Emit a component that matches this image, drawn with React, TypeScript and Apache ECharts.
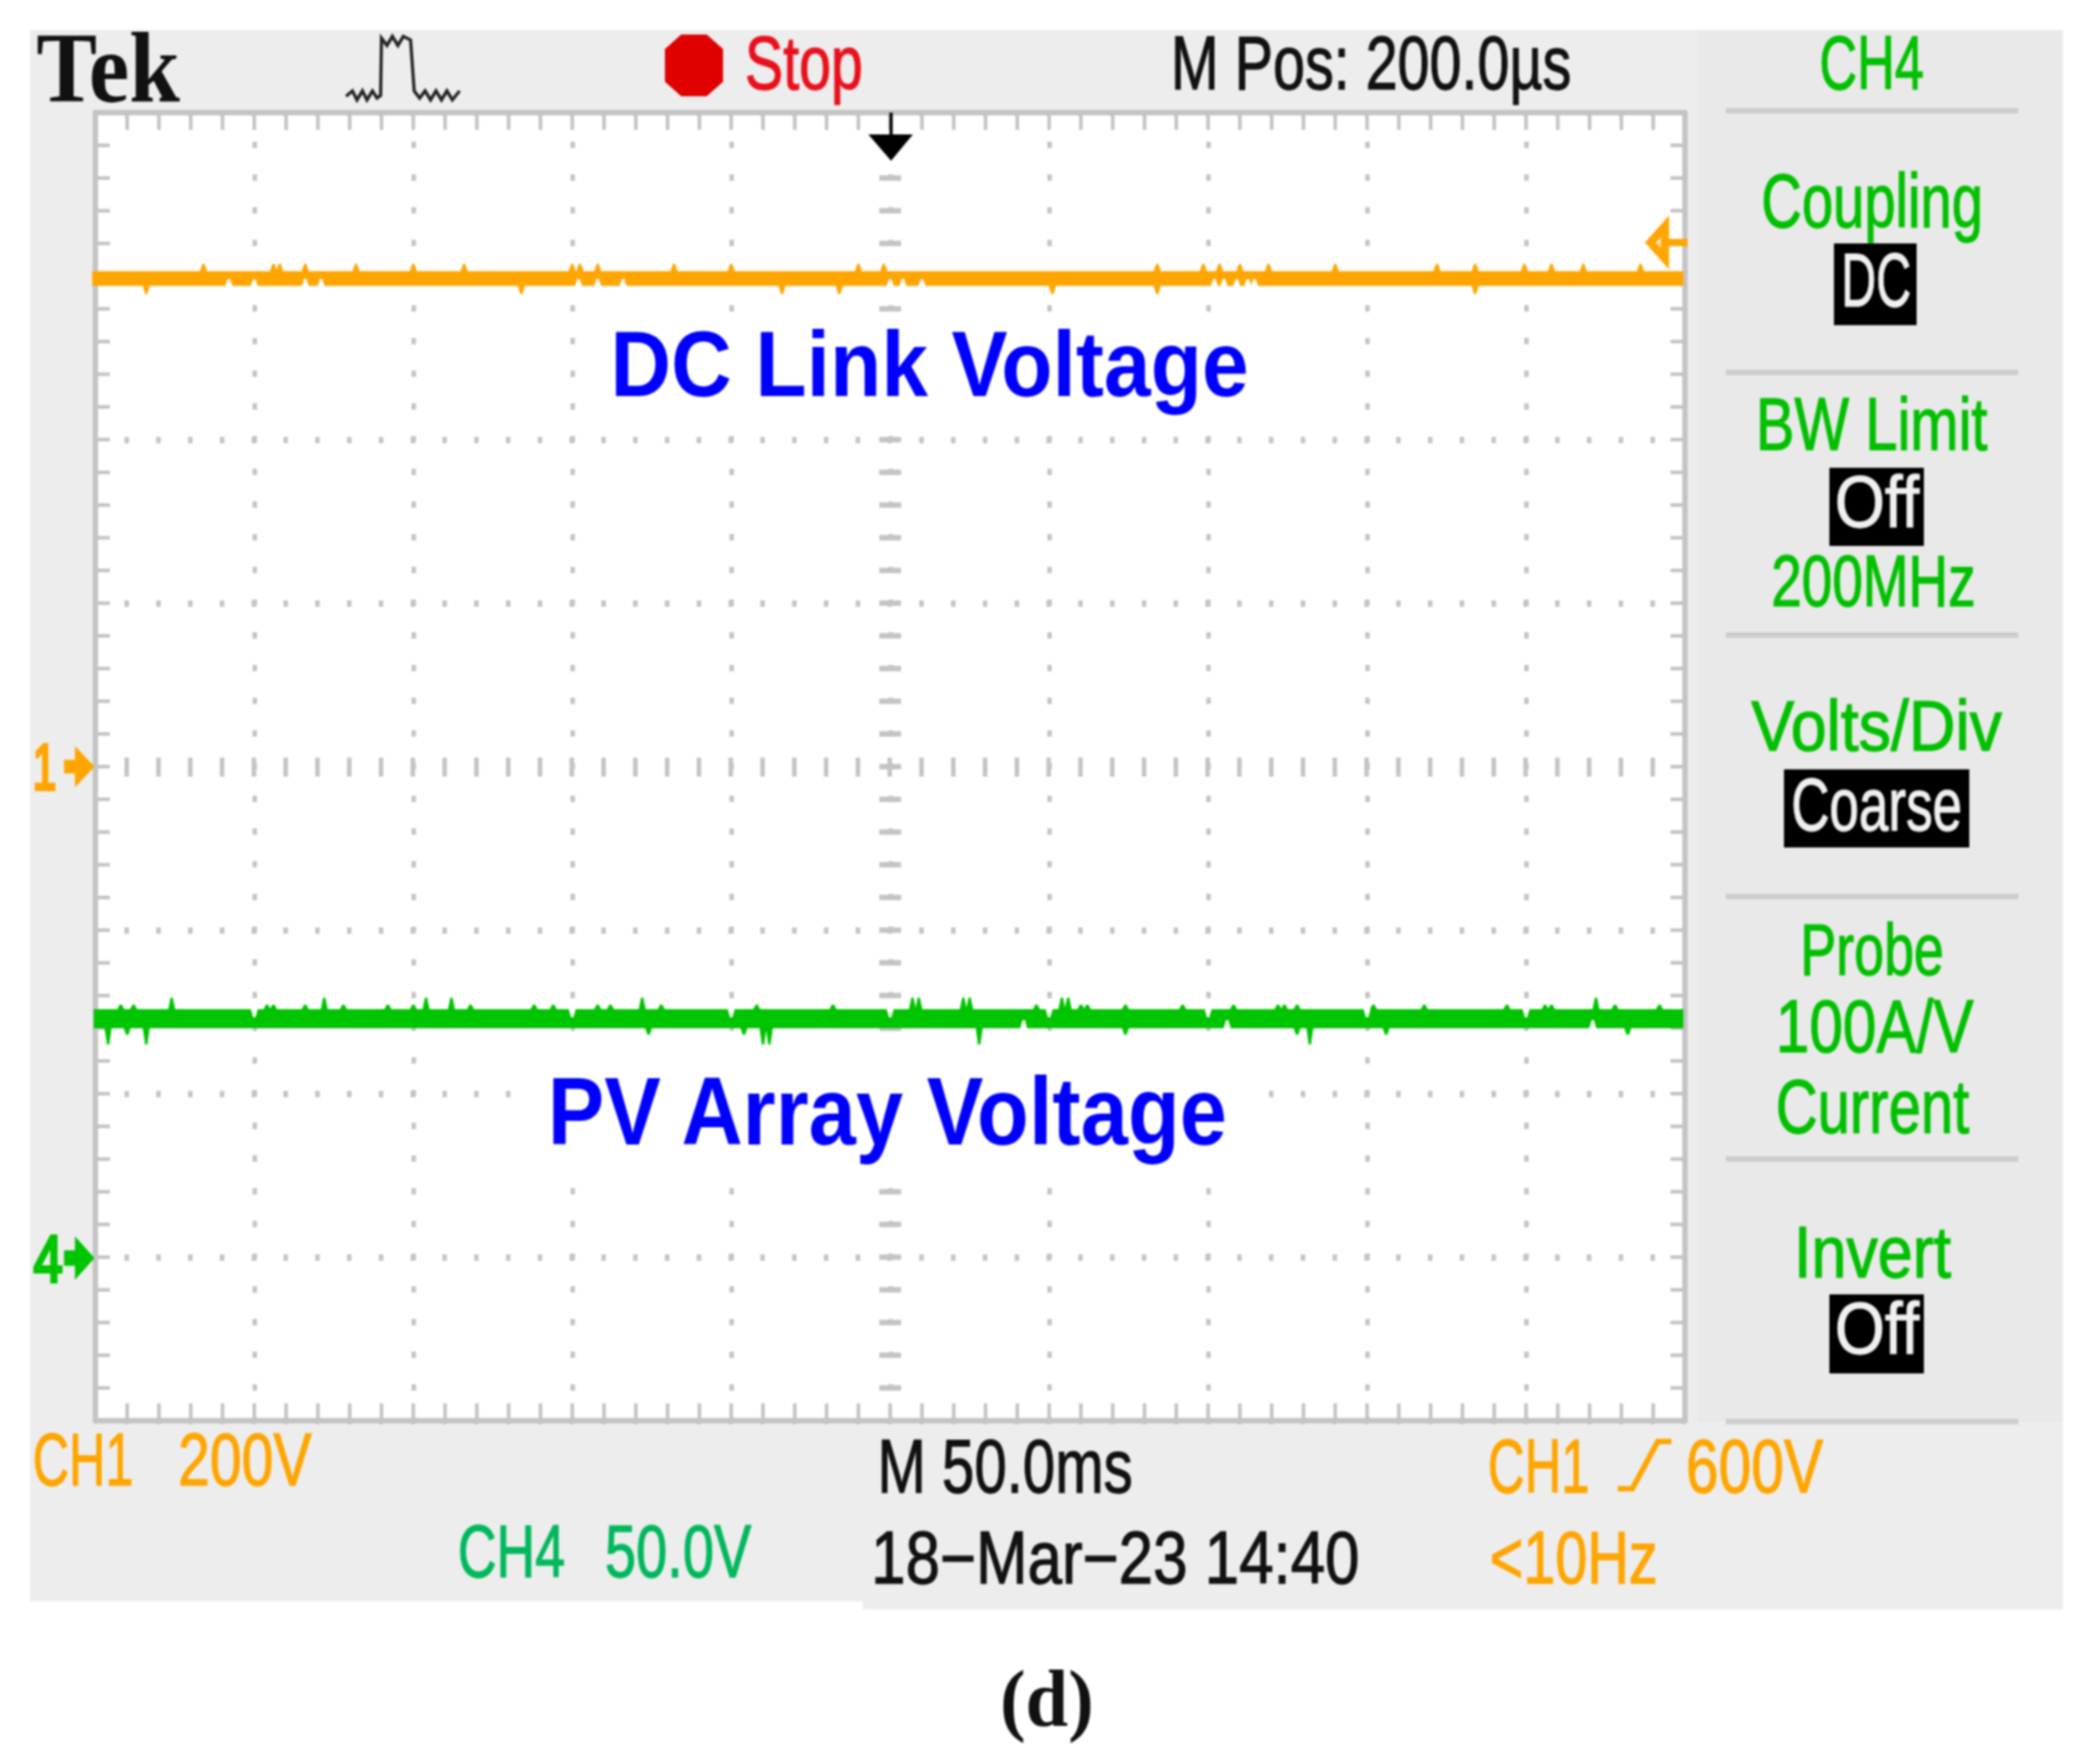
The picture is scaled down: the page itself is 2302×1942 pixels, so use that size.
import React, { useEffect, useRef } from "react";
import * as echarts from "echarts";

// CH1 (DC link voltage) in volts, time in ms from the screen centre
const dcHigh = 606;
const dcLow = 588;
const dcUpTimes = [-216, -194, -192, -184, -168, -150, -134, -100, -97.6, -92, -68, -50, -10, -2, 84, 98.5, 103.6, 110, 119, 140, 172, 184, 199.5, 208, 218, 236];
const dcUpPeak = 615;
const dcDownTimes = [-234, -116, -34, -16, 51, 84, 184];
const dcDownPeak = 578;
const dcNotchTimes = [-208, -200, -184, -179, -98, -92, -84, 0, 4, 10, 102, 105, 109, 112.5, 114.6];
const dcNotchLevel = 596.7;

// CH4 (PV array voltage) in volts
const pvHigh = 75.8;
const pvLow = 70;
const pvTallUp = [-226, -178, -146, -138, -78, 7, 9, 23, 25, 54, 56, 222];
const pvTallLevel = 79.4;
const pvSmallUp = [-242, -238, -196, -194, -184, -172, -158, -150, -132, -112, -106, -92, -88, -72, -42, -18, 46, 60, 62, 74, 92, 108, 122, 124, 128, 152, 168, 194, 206, 208, 228, 242];
const pvSmallLevel = 77.2;
const pvTallDown = [-246, -234, -40, -38, 28, 132];
const pvTallDownLevel = 65;
const pvSmallDown = [-240, -76, -46, 74, 128, 156, 232];
const pvSmallDownLevel = 68;
const pvTopNotches = [-200, -100, -50, 0, 50, 100, 150, 200];
const pvTopNotchLevel = 73.3;
const pvBottomNotches = [42, 106, 221];
const pvBottomNotchLevel = 72.5;

const sideMenu = ["CH4", "Coupling", "DC", "BW Limit", "Off", "200MHz", "Volts/Div", "Coarse", "Probe", "100A/V", "Current", "Invert", "Off"];

type Mark = [number, number];

function edge(base: number, marks: Mark[], t0: number, t1: number): number[][] {
  const sorted = [...marks].sort((a, b) => a[0] - b[0]);
  const out: number[][] = [[t0, base]];
  for (const [t, v] of sorted) {
    out.push([t - 1.1, base], [t - 0.35, v], [t + 0.35, v], [t + 1.1, base]);
  }
  out.push([t1, base]);
  return out;
}
const at = (ts: number[], v: number): Mark[] => ts.map((t) => [t, v]);

const dcOutline = [
  ...edge(dcHigh, at(dcUpTimes, dcUpPeak), -251, 249.5),
  ...edge(dcLow, [...at(dcDownTimes, dcDownPeak), ...at(dcNotchTimes, dcNotchLevel)], -251, 249.5).reverse(),
];
const pvOutline = [
  ...edge(pvHigh, [...at(pvTallUp, pvTallLevel), ...at(pvSmallUp, pvSmallLevel), ...at(pvTopNotches, pvTopNotchLevel)], -250.5, 249.5),
  ...edge(pvLow, [...at(pvTallDown, pvTallDownLevel), ...at(pvSmallDown, pvSmallDownLevel), ...at(pvBottomNotches, pvBottomNotchLevel)], -250.5, 249.5).reverse(),
];

const ORANGE = "#ffa500";
const GREEN = "#00c400";
const GRID = "#c4c4c4";

const ctx = document.createElement("canvas").getContext("2d")!;

function fit(
  text: string,
  x0: number,
  x1: number,
  top: number,
  base: number,
  fill: string,
  opt: { family?: string; weight?: string; ratio?: number; mid?: number; bold?: number } = {}
) {
  const family = opt.family ?? "'Liberation Sans'";
  const weight = opt.weight ?? "normal";
  const ratio = opt.ratio ?? 0.716;
  const mid = opt.mid ?? 0.3465;
  const size = (base - top) / ratio;
  const font = `${weight} ${size}px ${family}`;
  ctx.font = font;
  const m = ctx.measureText(text);
  const lineWidth = opt.bold ?? 1.3;
  return {
    type: "text",
    x: x0,
    y: base - mid * size,
    scaleX: (x1 - x0) / m.width,
    z: 20,
    silent: true,
    style: {
      text,
      font,
      fill,
      textAlign: "left",
      textVerticalAlign: "middle",
      ...(lineWidth > 0 ? { stroke: fill, lineWidth } : {}),
    },
  };
}
const rect = (x: number, y: number, w: number, h: number, fill: string, z: number) => ({
  type: "rect",
  z,
  silent: true,
  shape: { x, y, width: w, height: h },
  style: { fill },
});
const poly = (points: number[][], fill: string, z = 15, stroke?: string, lineWidth = 0) => ({
  type: "polygon",
  z,
  silent: true,
  shape: { points },
  style: { fill, stroke, lineWidth },
});
const pline = (points: number[][], stroke: string, lineWidth: number, z = 15) => ({
  type: "polyline",
  z,
  silent: true,
  shape: { points },
  style: { stroke, lineWidth, fill: "none" },
});

const TXT = "#111111";
const MENU = "#00c000";
const SERIF = { family: "'Liberation Serif'", weight: "bold", ratio: 0.66, mid: 0.3375, bold: 0 };

function graphics() {
  const separators = [122, 410, 699, 987, 1276, 1565].map((y) => rect(1900, y - 3, 322, 6, "#cdcdcd", 2));
  return [
    rect(33, 33, 2238, 1730, "#ededed", -3),
    rect(950, 1700, 1321, 72, "#ededed", -3),
    rect(1869, 33, 402, 1532, "#e9e9e9", -2),
    rect(105, 124, 1750, 1440, "#ffffff", -1),
    rect(650, 350, 750, 115, "#ffffff", 3),
    rect(570, 1150, 825, 145, "#ffffff", 3),
    ...separators,

    fit("Tek", 40, 198, 40, 112, "#111111", SERIF),
    pline([[381, 106], [388, 100], [393, 110], [399, 100], [404, 110], [410, 100], [415, 108], [419, 105], [420, 42], [426, 50], [432, 40], [438, 50], [444, 40], [452, 44], [456, 100], [462, 108], [468, 100], [474, 110], [480, 100], [486, 110], [492, 100], [498, 110], [506, 100]], "#222222", 3.5),
    poly([[750, 38], [778, 38], [796, 54], [796, 90], [778, 106], [750, 106], [732, 90], [732, 54]], "#e00000"),
    fit("Stop", 820, 950, 38, 98, "#e8101c"),
    fit("M Pos: 200.0µs", 1289, 1730, 38, 98, TXT),

    fit(sideMenu[0], 2003, 2118, 38, 98, MENU),
    fit(sideMenu[1], 1939, 2183, 190, 250, MENU),
    rect(2019, 268, 91, 90, "#000000", 10),
    fit(sideMenu[2], 2027, 2104, 277, 337, "#f0f0f0"),
    fit(sideMenu[3], 1933, 2188, 436, 495, MENU),
    rect(2014, 515, 104, 86, "#000000", 10),
    fit(sideMenu[4], 2020, 2113, 523, 580, "#f0f0f0"),
    fit(sideMenu[5], 1950, 2175, 610, 667, MENU),
    fit(sideMenu[6], 1928, 2204, 770, 826, MENU),
    rect(1964, 847, 204, 86, "#000000", 10),
    fit(sideMenu[7], 1972, 2160, 856, 914, "#f0f0f0"),
    fit(sideMenu[8], 1982, 2140, 1016, 1073, MENU),
    fit(sideMenu[9], 1955, 2173, 1100, 1158, MENU),
    fit(sideMenu[10], 1955, 2168, 1187, 1247, MENU),
    fit(sideMenu[11], 1975, 2148, 1349, 1406, MENU),
    rect(2014, 1425, 104, 87, "#000000", 10),
    fit(sideMenu[12], 2020, 2113, 1433, 1490, "#f0f0f0"),

    fit("DC Link Voltage", 672, 1375, 363, 436, "#0000ff", { weight: "bold", bold: 0 }),
    fit("PV Array Voltage", 603, 1354, 1185, 1260, "#0000ff", { weight: "bold", bold: 0 }),

    fit("CH1", 36, 147, 1577, 1635, ORANGE),
    fit("200V", 196, 343, 1577, 1635, ORANGE),
    fit("CH4", 504, 622, 1677, 1736, "#00b85c"),
    fit("50.0V", 666, 827, 1677, 1736, "#00b85c"),
    fit("M 50.0ms", 966, 1247, 1583, 1643, TXT),
    fit("18−Mar−23 14:40", 959, 1497, 1685, 1743, TXT),
    fit("CH1", 1638, 1750, 1583, 1643, ORANGE),
    pline([[1781, 1639], [1797, 1639], [1825, 1587], [1840, 1587]], ORANGE, 6),
    fit("600V", 1856, 2007, 1583, 1643, ORANGE),
    fit("<10Hz", 1640, 1825, 1685, 1743, ORANGE),
    fit("(d)", 1101, 1204, 1841, 1900, "#111111", SERIF),

    // channel and trigger markers
    fit("1", 36, 62, 818, 869, ORANGE, { bold: 4 }),
    poly([[72, 838], [84, 838], [84, 825], [102, 844], [84, 863], [84, 850], [72, 850]], ORANGE, 15, ORANGE, 3),
    fit("4", 37, 69, 1359, 1411, GREEN, { bold: 4 }),
    poly([[72, 1378], [84, 1378], [84, 1365], [102, 1385], [84, 1405], [84, 1392], [72, 1392]], GREEN, 15, GREEN, 3),
    poly([[1817, 267], [1833, 249], [1833, 285]], "#ffe9c0", 15, ORANGE, 9),
    pline([[1835, 267], [1858, 267]], ORANGE, 8),
    pline([[981, 124], [981, 152]], "#000000", 3.5),
    poly([[956, 148], [1005, 148], [981, 177]], "#000000"),
  ];
}

function outlineSeries(name: string, outline: number[][], yAxisIndex: number, color: string) {
  return {
    type: "custom",
    name,
    xAxisIndex: 0,
    yAxisIndex,
    z: 5,
    silent: true,
    data: outline,
    encode: { x: 0, y: 1 },
    renderItem: (params: any, api: any) => {
      if (params.dataIndex !== 0) return null;
      return {
        type: "polygon",
        shape: { points: outline.map((p) => api.coord(p)) },
        style: { fill: color },
      };
    },
  };
}

const App = () => {
  const ref = useRef<HTMLDivElement>(null);
  useEffect(() => {
    document.body.style.margin = "0";
    document.body.style.background = "#ffffff";
    const chart = echarts.init(ref.current!, undefined, { renderer: "svg" });
    const tickX = { show: true, inside: true, length: 19, lineStyle: { color: GRID, width: 4 } };
    const minorX = { show: true, splitNumber: 5, length: 19, lineStyle: { color: GRID, width: 4 } };
    const tickY = { show: true, inside: true, length: 16, lineStyle: { color: GRID, width: 4 } };
    const minorY = { show: true, splitNumber: 5, length: 16, lineStyle: { color: GRID, width: 4 } };
    const axisLine = { show: true, onZero: false, lineStyle: { color: "#c4c4c4", width: 6 } };
    const xBase = { type: "value", min: -250, max: 250, interval: 50, axisLabel: { show: false }, axisLine, axisTick: tickX, minorTick: minorX };
    const yBase = { type: "value", min: -800, max: 800, interval: 200, axisLabel: { show: false }, axisLine, axisTick: tickY, minorTick: minorY };
    chart.setOption({
      animation: false,
      backgroundColor: "#ffffff",
      grid: { left: 105, right: 447, top: 124, bottom: 378, show: false },
      xAxis: [
        {
          ...xBase,
          position: "bottom",
          splitLine: { show: true, lineStyle: { color: GRID, width: 5, type: [7, 29], dashOffset: 3.5 } },
        },
        { ...xBase, position: "top", splitLine: { show: false } },
      ],
      yAxis: [
        {
          ...yBase,
          position: "left",
          splitLine: { show: true, lineStyle: { color: GRID, width: 7, type: [5, 30], dashOffset: 2.5 } },
        },
        { ...yBase, position: "right", splitLine: { show: false } },
        { type: "value", min: -50, max: 350, interval: 50, position: "right", show: false, splitLine: { show: false } },
      ],
      graphic: graphics(),
      series: [
        {
          type: "line",
          name: "graticule centre",
          data: [],
          silent: true,
          z: 1,
          markLine: {
            z: 1,
            silent: true,
            symbol: "none",
            label: { show: false },
            animation: false,
            data: [
              { xAxis: 0, lineStyle: { color: GRID, width: 24, type: [6, 30], dashOffset: 3 } },
              { yAxis: 0, lineStyle: { color: GRID, width: 21, type: [5, 30], dashOffset: 2.5 } },
            ],
          },
        },
        outlineSeries("DC Link Voltage", dcOutline, 0, ORANGE),
        outlineSeries("PV Array Voltage", pvOutline, 2, GREEN),
      ],
    } as any);
    return () => chart.dispose();
  }, []);
  return <div ref={ref} style={{ width: 2302, height: 1942, filter: "blur(1.1px)" }} />;
};

export default App;
